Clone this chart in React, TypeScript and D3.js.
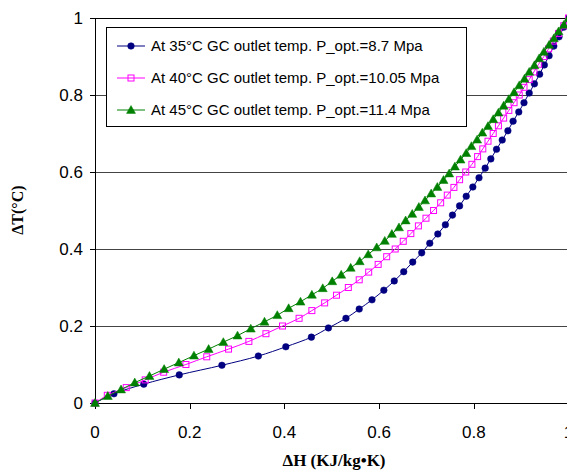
import React from "react";
import * as d3 from "d3";

const xTicks = [0, 0.2, 0.4, 0.6, 0.8, 1];
const yTicks = [0, 0.2, 0.4, 0.6, 0.8, 1];
const yTickLabels = ["0", "0.2", "0.4", "0.6", "0.8", "1"];
const xTickLabels = ["0", "0.2", "0.4", "0.6", "0.8", "1"];

const seriesNames = [
  "At 35°C GC outlet temp. P_opt.=8.7 Mpa",
  "At 40°C GC outlet temp. P_opt.=10.05 Mpa",
  "At 45°C GC outlet temp. P_opt.=11.4 Mpa",
];

const blueX = [0, 0.040, 0.103, 0.178, 0.268, 0.345, 0.403, 0.457, 0.493, 0.530, 0.558, 0.585, 0.610, 0.632, 0.652, 0.671, 0.690, 0.707, 0.724, 0.740, 0.755, 0.770, 0.784, 0.798, 0.811, 0.824, 0.836, 0.848, 0.860, 0.872, 0.883, 0.895, 0.906, 0.917, 0.928, 0.939, 0.949, 0.959, 0.969, 0.980, 0.990, 1.0];
const blueY = [0, 0.024, 0.049, 0.073, 0.098, 0.122, 0.146, 0.171, 0.195, 0.220, 0.244, 0.268, 0.293, 0.317, 0.341, 0.366, 0.390, 0.415, 0.439, 0.463, 0.488, 0.512, 0.537, 0.561, 0.585, 0.610, 0.634, 0.659, 0.683, 0.707, 0.732, 0.756, 0.780, 0.805, 0.829, 0.854, 0.878, 0.902, 0.927, 0.951, 0.976, 1.0];

const pinkX = [0, 0.026, 0.066, 0.106, 0.145, 0.192, 0.236, 0.282, 0.325, 0.361, 0.396, 0.431, 0.458, 0.485, 0.510, 0.535, 0.558, 0.578, 0.598, 0.616, 0.634, 0.651, 0.667, 0.683, 0.699, 0.715, 0.730, 0.744, 0.758, 0.770, 0.783, 0.796, 0.808, 0.819, 0.830, 0.841, 0.852, 0.863, 0.874, 0.885, 0.896, 0.906, 0.917, 0.927, 0.937, 0.948, 0.958, 0.968, 0.979, 0.990, 1.0];
const pinkY = [0, 0.02, 0.04, 0.06, 0.08, 0.10, 0.12, 0.14, 0.16, 0.18, 0.20, 0.22, 0.24, 0.26, 0.28, 0.30, 0.32, 0.34, 0.36, 0.38, 0.40, 0.42, 0.44, 0.46, 0.48, 0.50, 0.52, 0.54, 0.56, 0.58, 0.60, 0.62, 0.64, 0.66, 0.68, 0.70, 0.72, 0.74, 0.76, 0.78, 0.80, 0.82, 0.84, 0.86, 0.88, 0.90, 0.92, 0.94, 0.96, 0.98, 1.0];

const greenX = [0, 0.027, 0.055, 0.084, 0.115, 0.146, 0.177, 0.209, 0.240, 0.271, 0.301, 0.329, 0.358, 0.385, 0.409, 0.434, 0.458, 0.481, 0.501, 0.520, 0.540, 0.559, 0.577, 0.595, 0.612, 0.627, 0.642, 0.656, 0.670, 0.684, 0.697, 0.710, 0.723, 0.736, 0.748, 0.760, 0.772, 0.784, 0.795, 0.807, 0.818, 0.830, 0.841, 0.852, 0.863, 0.874, 0.885, 0.896, 0.907, 0.917, 0.928, 0.938, 0.948, 0.959, 0.969, 0.979, 0.990, 1.0];
const greenY = [0, 0.018, 0.035, 0.053, 0.070, 0.088, 0.105, 0.123, 0.140, 0.158, 0.175, 0.193, 0.211, 0.228, 0.246, 0.263, 0.281, 0.298, 0.316, 0.333, 0.351, 0.368, 0.386, 0.404, 0.421, 0.439, 0.456, 0.474, 0.491, 0.509, 0.526, 0.544, 0.561, 0.579, 0.596, 0.614, 0.632, 0.649, 0.667, 0.684, 0.702, 0.719, 0.737, 0.754, 0.772, 0.789, 0.807, 0.825, 0.842, 0.860, 0.877, 0.895, 0.912, 0.930, 0.947, 0.965, 0.982, 1.0];

const colors = ["#000080", "#FF00FF", "#008000"];

const W = 567;
const H = 470;
const left = 95;
const right = 568.5;
const top = 18;
const bottom = 403;

function Marker({ kind, cx, cy, color }: { kind: number; cx: number; cy: number; color: string }) {
  if (kind === 0) return <circle cx={cx} cy={cy} r={3.3} fill={color} stroke={color} strokeWidth={0.5} />;
  if (kind === 1)
    return <rect x={cx - 3} y={cy - 3} width={6} height={6} fill="none" stroke={color} strokeWidth={1} />;
  const s = 4.5;
  return (
    <path
      d={`M${cx},${cy - s} L${cx + s},${cy + s * 0.75} L${cx - s},${cy + s * 0.75} Z`}
      fill={color}
      stroke={color}
      strokeWidth={0.5}
    />
  );
}

export default function App() {
  const x = d3.scaleLinear().domain([0, 1]).range([left, right]);
  const y = d3.scaleLinear().domain([0, 1]).range([bottom, top]);
  const series = [
    { xs: blueX, ys: blueY },
    { xs: pinkX, ys: pinkY },
    { xs: greenX, ys: greenY },
  ];
  const line = d3
    .line<[number, number]>()
    .x((d) => x(d[0]))
    .y((d) => y(d[1]))
    .curve(d3.curveCatmullRom.alpha(0.5));

  const legendRows = [46, 78, 110];

  return (
    <svg
      width={W}
      height={H}
      style={{ position: "absolute", left: 0, top: 0, background: "#fff" }}
      fontFamily="Liberation Sans, Arial, sans-serif"
    >
      <rect x={0} y={0} width={W} height={H} fill="#fff" />
      {yTicks.slice(1).map((t) => (
        <line key={t} x1={left} x2={W} y1={Math.round(y(t)) + 0.5} y2={Math.round(y(t)) + 0.5} stroke={t === 1 ? "#000" : "#444"} strokeWidth={1} />
      ))}
      <line x1={left + 0.5} x2={left + 0.5} y1={top} y2={bottom + 0.5} stroke="#000" />
      <line x1={left} x2={W} y1={bottom + 0.5} y2={bottom + 0.5} stroke="#000" />
      {yTicks.map((t, i) => (
        <g key={"yt" + t}>
          <line x1={left - 5} x2={left} y1={Math.round(y(t)) + 0.5} y2={Math.round(y(t)) + 0.5} stroke="#000" />
          <text x={83} y={y(t) + 6} textAnchor="end" fontSize={17} fill="#000">
            {yTickLabels[i]}
          </text>
        </g>
      ))}
      {xTicks.map((t, i) => (
        <g key={"xt" + t}>
          <line x1={Math.round(x(t)) + 0.5} x2={Math.round(x(t)) + 0.5} y1={bottom} y2={bottom + 6} stroke="#000" />
          <text x={x(t)} y={438} textAnchor="middle" fontSize={17} fill="#000">
            {xTickLabels[i]}
          </text>
        </g>
      ))}
      {series.map((s, si) => {
        const pts: [number, number][] = s.xs.map((v, i) => [v, s.ys[i]]);
        return (
          <g key={"s" + si}>
            <path d={line(pts) || ""} fill="none" stroke={colors[si]} strokeWidth={1} />
            {pts.map((p, i) => (
              <Marker key={i} kind={si} cx={x(p[0])} cy={y(p[1])} color={colors[si]} />
            ))}
          </g>
        );
      })}
      <rect x={106.5} y={27.5} width={360} height={99} fill="#fff" stroke="#000" strokeWidth={1} />
      {seriesNames.map((n, i) => (
        <g key={"lg" + i}>
          <line x1={117} x2={145} y1={legendRows[i]} y2={legendRows[i]} stroke={colors[i]} strokeWidth={1} />
          <Marker kind={i} cx={131} cy={legendRows[i]} color={colors[i]} />
          <text x={151} y={legendRows[i] + 5} fontSize={15} fill="#000">
            {n}
          </text>
        </g>
      ))}
      <text
        x={334}
        y={466}
        textAnchor="middle"
        fontFamily="Liberation Serif, Times New Roman, serif"
        fontWeight="bold"
        fontSize={17}
        fill="#000"
      >
        ΔH (KJ/kg•K)
      </text>
      <text
        transform={`translate(23,210) rotate(-90)`}
        textAnchor="middle"
        fontFamily="Liberation Serif, Times New Roman, serif"
        fontWeight="bold"
        fontSize={16}
        fill="#000"
      >
        ΔT(°C)
      </text>
    </svg>
  );
}
